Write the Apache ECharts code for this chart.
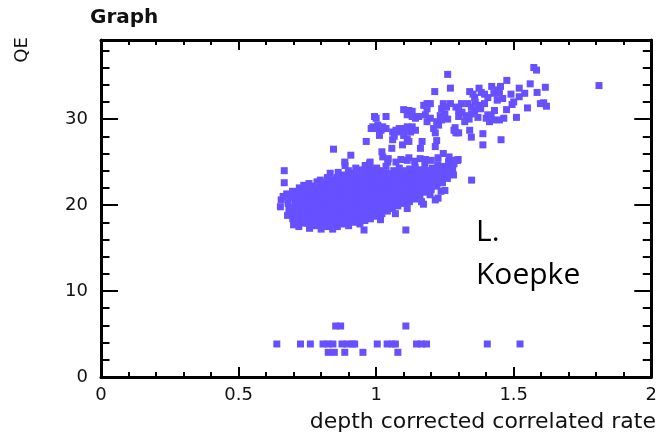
<!DOCTYPE html>
<html><head><meta charset="utf-8">
<script src="https://cdn.jsdelivr.net/npm/echarts@6/dist/echarts.min.js"></script>
<style>html,body{margin:0;padding:0;background:#fff}#c{width:660px;height:438px}</style>
</head><body><div id="c"></div>
<script>
const titleText = 'Graph';
const xTitle = 'depth corrected correlated rate';
const yTitle = 'QE';
const note = 'L.\nKoepke';
const xRange = [0, 2];
const yRange = [0, 39.2];

// dense main cluster
const blob = [
[0.655,20.6],[0.652,19.8],[0.662,21.0],[0.666,24.0],[0.666,22.6],
[0.678,18.8],[0.683,19.5],[0.680,20.2],[0.686,20.9],[0.675,21.3],
[0.700,17.7],[0.697,18.4],[0.703,19.0],[0.699,19.7],[0.705,20.3],[0.701,21.0],[0.696,21.6],
[0.719,17.5],[0.722,18.2],[0.718,18.9],[0.724,19.5],[0.720,20.1],[0.723,20.8],[0.717,21.4],[0.721,22.0],
[0.741,17.9],[0.738,18.6],[0.743,19.2],[0.739,19.9],[0.744,20.5],[0.740,21.1],[0.742,21.7],[0.737,22.3],
[0.758,17.3],[0.762,18.0],[0.760,18.7],[0.757,19.3],[0.763,20.0],[0.759,20.6],[0.761,21.2],[0.764,21.9],[0.756,22.5],
[0.779,17.6],[0.782,18.3],[0.778,18.9],[0.784,19.6],[0.780,20.2],[0.777,20.9],[0.783,21.5],[0.781,22.1],[0.785,22.7],
[0.800,17.2],[0.803,17.9],[0.799,18.5],[0.802,19.2],[0.805,19.8],[0.798,20.4],[0.801,21.1],[0.804,21.7],[0.800,22.3],[0.797,22.9],
[0.821,17.5],[0.818,18.1],[0.823,18.8],[0.820,19.4],[0.824,20.1],[0.819,20.7],[0.822,21.3],[0.825,22.0],[0.817,22.6],[0.823,23.2],
[0.842,17.2],[0.838,17.9],[0.843,18.5],[0.840,19.1],[0.844,19.8],[0.839,20.4],[0.841,21.0],[0.845,21.7],[0.837,22.3],[0.842,22.9],[0.833,23.7],
[0.859,17.5],[0.862,18.1],[0.858,18.8],[0.863,19.4],[0.860,20.0],[0.864,20.7],[0.857,21.3],[0.861,21.9],[0.865,22.6],[0.858,23.2],[0.862,23.8],
[0.881,17.8],[0.878,18.4],[0.883,19.1],[0.879,19.7],[0.884,20.3],[0.880,21.0],[0.877,21.6],[0.882,22.2],[0.885,22.9],[0.879,23.5],[0.887,24.6],
[0.900,17.6],[0.903,18.3],[0.898,18.9],[0.902,19.6],[0.905,20.2],[0.899,20.8],[0.901,21.5],[0.904,22.1],[0.897,22.7],[0.902,23.4],[0.899,24.0],
[0.921,18.0],[0.918,18.7],[0.923,19.3],[0.920,19.9],[0.924,20.6],[0.919,21.2],[0.922,21.8],[0.925,22.5],[0.917,23.1],[0.921,23.7],[0.926,24.3],
[0.941,17.8],[0.938,18.5],[0.943,19.1],[0.940,19.7],[0.944,20.4],[0.939,21.0],[0.942,21.6],[0.937,22.3],[0.945,22.9],[0.940,23.5],[0.943,24.1],
[0.959,18.2],[0.962,18.9],[0.958,19.5],[0.963,20.1],[0.960,20.8],[0.957,21.4],[0.961,22.0],[0.964,22.7],[0.958,23.3],[0.962,23.9],[0.960,24.6],[0.956,17.1],
[0.979,18.4],[0.982,19.1],[0.978,19.7],[0.983,20.3],[0.980,21.0],[0.977,21.6],[0.981,22.2],[0.984,22.9],[0.978,23.5],[0.983,24.1],[0.976,24.8],
[1.000,18.7],[0.997,19.3],[1.002,20.0],[0.999,20.6],[1.004,21.2],[1.001,21.9],[0.998,22.5],[1.003,23.1],[0.999,23.8],[1.002,24.3],
[1.021,19.0],[1.018,19.6],[1.023,20.3],[1.020,20.9],[1.024,21.5],[1.019,22.2],[1.022,22.8],[1.017,23.4],[1.021,24.0],[1.016,18.3],
[1.041,19.3],[1.038,19.9],[1.043,20.6],[1.040,21.2],[1.044,21.8],[1.039,22.5],[1.042,23.1],[1.037,23.7],[1.036,24.5],
[1.059,19.6],[1.062,20.2],[1.058,20.9],[1.063,21.5],[1.060,22.1],[1.057,22.8],[1.061,23.4],[1.064,24.0],
[1.079,19.9],[1.082,20.5],[1.078,21.2],[1.083,21.8],[1.080,22.4],[1.077,23.1],[1.081,23.7],[1.084,24.3],[1.070,19.0],
[1.100,20.2],[1.097,20.8],[1.102,21.5],[1.099,22.1],[1.104,22.7],[1.101,23.4],[1.098,24.0],[1.108,17.1],
[1.121,20.4],[1.118,21.0],[1.123,21.7],[1.120,22.3],[1.124,22.9],[1.119,23.6],[1.122,24.2],[1.113,19.6],
[1.141,20.7],[1.138,21.3],[1.143,21.9],[1.140,22.6],[1.144,23.2],[1.139,23.8],[1.142,24.4],
[1.159,21.0],[1.162,21.6],[1.158,22.2],[1.163,22.9],[1.160,23.5],[1.157,24.1],[1.165,20.4],
[1.179,21.5],[1.182,22.1],[1.178,22.7],[1.183,23.4],[1.180,24.0],[1.177,24.6],[1.172,20.1],
[1.200,21.8],[1.197,22.4],[1.202,23.0],[1.199,23.7],[1.204,24.3],[1.196,21.2],
[1.221,22.2],[1.218,22.8],[1.223,23.5],[1.220,24.1],[1.224,24.7],[1.215,20.6],
[1.241,22.6],[1.238,23.3],[1.243,23.9],[1.240,24.5],[1.236,21.6],
[1.259,23.1],[1.262,23.7],[1.258,24.3],[1.263,25.0],
[1.281,23.5],[1.278,24.2],[1.283,24.8],[1.287,25.2],[1.296,25.2],
[1.347,22.9],[1.158,21.2],[1.225,20.8],[1.250,21.7]
];

// extra points filling the core of the cluster
const blobCore = [
[0.711,18.2],[0.709,18.9],[0.712,19.5],[0.710,20.2],[0.713,20.8],
[0.731,18.0],[0.729,18.6],[0.732,19.3],[0.730,19.9],[0.733,20.6],[0.728,21.3],
[0.751,17.9],[0.749,18.5],[0.752,19.2],[0.750,19.8],[0.753,20.5],[0.748,21.1],[0.751,21.7],
[0.771,17.8],[0.769,18.4],[0.772,19.1],[0.770,19.7],[0.773,20.4],[0.768,21.0],[0.771,21.6],[0.769,22.2],
[0.791,17.8],[0.789,18.4],[0.792,19.1],[0.790,19.7],[0.793,20.4],[0.788,21.0],[0.791,21.6],[0.789,22.3],
[0.811,17.6],[0.809,18.3],[0.812,18.9],[0.810,19.6],[0.813,20.2],[0.808,20.9],[0.811,21.5],[0.809,22.1],[0.812,22.6],
[0.831,17.6],[0.829,18.3],[0.832,18.9],[0.830,19.6],[0.833,20.2],[0.828,20.9],[0.831,21.5],[0.829,22.1],[0.832,22.8],
[0.851,17.8],[0.849,18.5],[0.852,19.1],[0.850,19.8],[0.853,20.4],[0.848,21.1],[0.851,21.7],[0.849,22.4],[0.852,23.0],
[0.871,18.0],[0.869,18.6],[0.872,19.3],[0.870,19.9],[0.873,20.6],[0.868,21.2],[0.871,21.9],[0.869,22.5],[0.872,23.2],
[0.891,18.1],[0.889,18.7],[0.892,19.4],[0.890,20.0],[0.893,20.7],[0.888,21.3],[0.891,22.0],[0.889,22.6],[0.892,23.3],
[0.911,18.3],[0.909,18.9],[0.912,19.6],[0.910,20.2],[0.913,20.9],[0.908,21.5],[0.911,22.2],[0.909,22.8],[0.912,23.5],
[0.931,18.5],[0.929,19.1],[0.932,19.8],[0.930,20.4],[0.933,21.1],[0.928,21.7],[0.931,22.4],[0.929,23.0],[0.932,23.7],
[0.951,18.6],[0.949,19.2],[0.952,19.9],[0.950,20.5],[0.953,21.2],[0.948,21.8],[0.951,22.5],[0.949,23.1],[0.952,23.7],
[0.971,18.8],[0.969,19.4],[0.972,20.1],[0.970,20.7],[0.973,21.4],[0.968,22.0],[0.971,22.6],[0.969,23.2],[0.972,23.8],
[0.991,19.0],[0.989,19.6],[0.992,20.3],[0.990,20.9],[0.993,21.6],[0.988,22.2],[0.991,22.8],[0.989,23.4],
[1.011,19.3],[1.009,19.9],[1.012,20.6],[1.010,21.2],[1.013,21.9],[1.008,22.5],[1.011,23.1],[1.009,23.6],
[1.031,19.6],[1.029,20.2],[1.032,20.9],[1.030,21.5],[1.033,22.2],[1.028,22.8],[1.031,23.4],
[1.051,19.9],[1.049,20.5],[1.052,21.2],[1.050,21.8],[1.053,22.5],[1.048,23.1],[1.051,23.6],
[1.071,20.2],[1.069,20.8],[1.072,21.5],[1.070,22.1],[1.073,22.8],[1.068,23.4],
[1.091,20.5],[1.089,21.1],[1.092,21.8],[1.090,22.4],[1.093,23.1],[1.088,23.6],
[1.111,20.8],[1.109,21.4],[1.112,22.1],[1.110,22.7],[1.113,23.3],[1.108,23.8],
[1.131,21.0],[1.129,21.6],[1.132,22.3],[1.130,22.9],[1.133,23.5],
[1.151,21.3],[1.149,21.9],[1.152,22.6],[1.150,23.2],[1.153,23.8],
[1.171,21.8],[1.169,22.4],[1.172,23.1],[1.170,23.7],
[1.191,22.0],[1.189,22.7],[1.192,23.3],[1.190,23.9]
];

// upper branch
const upper = [
[1.26,35.2],[1.573,36.0],[1.583,35.7],[1.81,33.9],[1.475,34.5],[1.27,33.6],[1.213,33.2],
[1.34,33.2],[1.352,32.9],[1.358,32.5],[1.374,33.6],[1.382,33.1],[1.394,32.9],[1.406,32.5],
[1.42,33.8],[1.428,33.0],[1.442,33.4],[1.452,33.8],[1.448,33.0],[1.49,32.9],[1.52,33.6],[1.52,32.6],
[1.56,34.1],[1.585,33.1],[1.615,33.7],[1.609,31.9],[1.619,31.5],[1.597,31.8],[1.55,31.3],
[1.494,31.7],[1.474,31.1],[1.51,30.2],[1.448,29.9],[1.464,30.1],
[1.406,30.5],[1.418,30.3],[1.424,29.9],[1.412,29.7],[1.400,30.1],[1.394,31.8],[1.388,28.3],[1.388,27.0],[1.454,27.6],
[1.334,31.8],[1.346,31.4],[1.358,31.0],[1.346,30.6],[1.326,30.4],[1.338,30.0],[1.322,29.7],
[1.34,28.7],[1.346,27.9],
[1.31,31.8],[1.29,31.4],[1.30,31.0],[1.312,30.8],[1.30,30.3],
[1.287,29.0],[1.29,28.4],[1.30,28.4],[1.283,28.7],
[1.27,31.8],[1.256,31.4],[1.244,31.8],[1.238,31.2],
[1.233,30.4],[1.238,29.9],[1.227,29.3],[1.22,29.7],
[1.22,27.5],[1.215,26.8],[1.215,28.4],[1.209,28.9],
[1.197,31.8],[1.185,31.8],[1.173,31.6],[1.185,31.2],
[1.179,30.5],[1.197,30.1],[1.185,29.7],
[1.155,30.3],[1.143,30.1],[1.131,30.3],
[1.131,29.1],[1.143,28.7],[1.125,28.5],
[1.161,26.6],[1.167,27.4],
[1.10,31.1],[1.119,31.0],[1.113,30.5],[1.131,30.9],
[1.09,28.5],[1.10,28.1],[1.113,27.7],[1.119,27.4],[1.096,27.0],[1.113,29.1],[1.10,28.9],
[1.06,27.6],[1.057,26.6],[1.066,28.0],
[1.084,28.9],[1.072,28.7],[1.06,28.5],
[1.036,30.3],[1.036,28.9],
[1.024,29.1],[1.012,28.1],[1.018,28.7],
[1.0,30.1],[0.988,29.1],[0.982,28.9],[1.0,28.9],[1.006,29.3],[0.994,30.3],
[0.964,27.4],[1.021,26.2],[0.845,26.5],[0.908,25.8],[0.886,25.0],[0.978,25.0],
[1.024,25.6],[1.042,25.0],[1.072,25.0],[1.113,25.2],[1.119,25.5],[1.179,25.3],[1.244,26.0],[1.287,25.2],[1.298,25.3],
[1.044,25.4],[1.09,25.3],[1.14,25.1],[1.16,25.4],[1.2,25.2],[1.225,25.5],[1.265,25.6],
[1.36,32.0],[1.372,31.6],[1.38,31.2],[1.43,31.0],[1.44,32.2],[1.46,32.4],[1.5,32.0],[1.54,33.0],[1.37,30.2],[1.25,30.6],[1.26,30.0]
];

// low outliers
const low = [
[0.639,3.84],[0.725,3.84],[0.761,3.84],[0.807,3.84],[0.825,3.84],[0.843,3.84],[0.876,3.84],[0.895,3.84],[0.914,3.84],[0.922,3.84],
[1.004,3.84],[1.040,3.84],[1.058,3.84],[1.070,3.84],[1.147,3.84],[1.165,3.84],[1.183,3.84],[1.404,3.84],[1.523,3.84],
[0.826,2.87],[0.848,2.87],[0.886,2.87],[0.952,2.87],[1.079,2.87],
[0.853,5.93],[0.871,5.93],[1.108,5.93]
];

const F = 'DejaVu Sans';
const markColor = '#6650ff';
const frame = {show:true, onZero:false, lineStyle:{color:'#000', width:3}};
const noLine = {show:false, onZero:false};
const tickStyle = {color:'#000', width:2};

function xa(pos, major, labels){
  return {type:'value', position:pos, min:xRange[0], max:xRange[1], interval: major?0.5:0.1,
    axisLine: major ? frame : noLine,
    axisTick:{show:true, inside:true, length: major?10:5, lineStyle:tickStyle},
    splitLine:{show:false},
    axisLabel:{show:labels, color:'#111', fontFamily:F, fontSize:18, margin:9}};
}
function ya(pos, major, labels){
  return {type:'value', position:pos, min:yRange[0], max:yRange[1], interval: major?10:2,
    axisLine: major ? frame : noLine,
    axisTick:{show:true, inside:true, length: major?17:8.5, lineStyle:tickStyle},
    splitLine:{show:false},
    axisLabel:{show:labels, showMaxLabel:false, color:'#111', fontFamily:F, fontSize:18, margin:13}};
}

function sc(data){
  return {type:'scatter', data:data, xAxisIndex:0, yAxisIndex:0, symbol:'rect', symbolSize:7,
    itemStyle:{color:markColor, opacity:1}, silent:true, animation:false};
}

const chart = echarts.init(document.getElementById('c'), null, {renderer:'canvas'});
chart.setOption({
  animation:false,
  backgroundColor:'#fff',
  grid:{left:101, right:2, top:40, bottom:61},
  xAxis:[xa('bottom', true, true), xa('bottom', false, false), xa('top', true, false), xa('top', false, false)],
  yAxis:[ya('left', true, true), ya('left', false, false), ya('right', true, false), ya('right', false, false)],
  series:[sc(blob), sc(blobCore), sc(upper), sc(low)],
  graphic:[
    {type:'text', x:90, y:18, style:{text:titleText, fontFamily:F, fontWeight:'bold', fontSize:20, fill:'#111', align:'left', verticalAlign:'middle'}},
    {type:'text', x:22, y:50, rotation:Math.PI/2, style:{text:yTitle, fontFamily:F, fontSize:18, fill:'#111', align:'center', verticalAlign:'middle'}},
    {type:'text', x:656, y:422, style:{text:xTitle, fontFamily:F, fontSize:22, fill:'#111', align:'right', verticalAlign:'middle'}},
    {type:'text', x:476, y:211, style:{text:note, fontFamily:'Open Sans', fontSize:30, lineHeight:43, fill:'#000', align:'left', verticalAlign:'top'}}
  ]
});
</script>
</body></html>
